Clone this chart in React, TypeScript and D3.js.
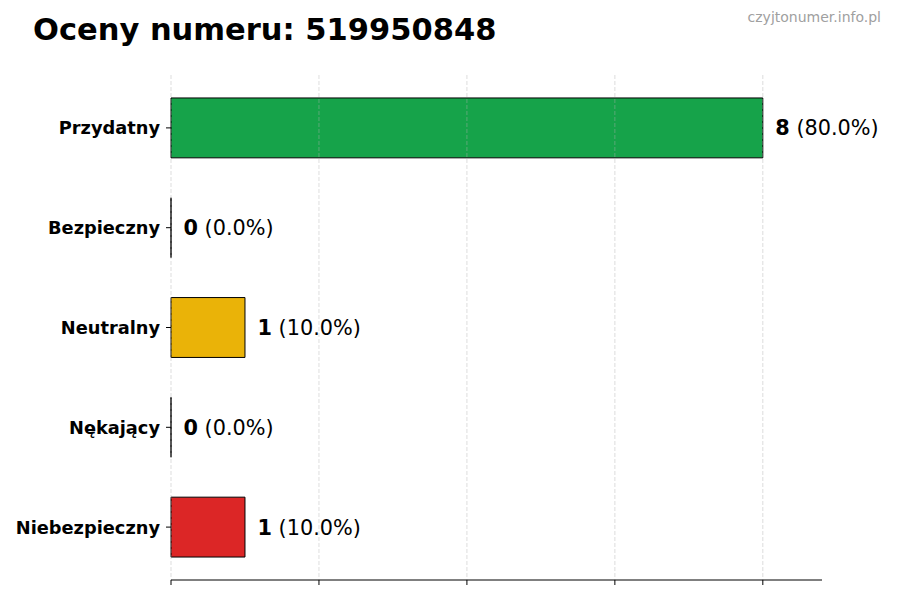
import React from 'react';
import * as d3 from 'd3';

const categories = ['Przydatny', 'Bezpieczny', 'Neutralny', 'Nękający', 'Niebezpieczny'];
const counts = [8, 0, 1, 0, 1];
const barColors = ['#16a34a', '#22c55e', '#eab308', '#f97316', '#dc2626'];
const xTicks = [0, 2, 4, 6, 8];

const title = 'Oceny numeru: 519950848';
const watermark = 'czyjtonumer.info.pl';

const W = 900;
const H = 600;
const margin = { top: 75, right: 78, bottom: 20, left: 171 };
const FONT = '"DejaVu Sans", Verdana, sans-serif';

const App: React.FC = () => {
    const total = d3.sum(counts);
    const plotBottom = H - margin.bottom;

    const x = d3.scaleLinear()
        .domain([0, 8.8])
        .range([margin.left, W - margin.right]);

    const y = d3.scaleBand<string>()
        .domain(categories)
        .range([margin.top, plotBottom])
        .paddingInner(0.4)
        .paddingOuter(0.23);

    // path instead of rect so zero-width bars still show their outline
    const barPath = (c: string, v: number) => {
        const p = d3.path();
        p.rect(x(0), y(c) ?? 0, x(v) - x(0), y.bandwidth());
        return p.toString();
    };

    return (
        <svg width={W} height={H} style={{ display: 'block', position: 'absolute', left: 0, top: 0, background: '#fff' }} fontFamily={FONT}>
            <rect x={0} y={0} width={W} height={H} fill="#fff" />

            {/* title + watermark */}
            <text x={33} y={40} fontSize={30.5} fontWeight="bold" fill="#000">{title}</text>
            <text x={881} y={22} fontSize={14} fill="#a0a0a0" textAnchor="end">{watermark}</text>

            {/* bars */}
            {categories.map((c, i) => (
                <path
                    key={c}
                    d={barPath(c, counts[i])}
                    fill={barColors[i]}
                    stroke="#000"
                    strokeWidth={1}
                />
            ))}

            {/* vertical dashed grid */}
            {xTicks.map(t => (
                <line
                    key={'g' + t}
                    x1={x(t)} x2={x(t)}
                    y1={margin.top} y2={plotBottom}
                    stroke="#b0b0b0"
                    strokeOpacity={0.55}
                    strokeWidth={0.8}
                    strokeDasharray="4,2"
                />
            ))}

            {/* bottom axis, no labels */}
            <line x1={x.range()[0]} x2={x.range()[1]} y1={plotBottom} y2={plotBottom} stroke="#000" strokeWidth={1} />
            {xTicks.map(t => (
                <line key={'t' + t} x1={x(t)} x2={x(t)} y1={plotBottom} y2={plotBottom + 5} stroke="#000" strokeWidth={1} />
            ))}

            {/* y ticks and labels */}
            {categories.map(c => {
                const cy = (y(c) ?? 0) + y.bandwidth() / 2;
                return (
                    <g key={'y' + c}>
                        <line x1={x(0) - 5} x2={x(0)} y1={cy} y2={cy} stroke="#000" strokeWidth={1} />
                        <text x={x(0) - 11} y={cy} dy="0.37em" textAnchor="end" fontSize={17.8} fontWeight="bold" fill="#000">{c}</text>
                    </g>
                );
            })}

            {/* value labels */}
            {categories.map((c, i) => {
                const cy = (y(c) ?? 0) + y.bandwidth() / 2;
                const pct = total ? (counts[i] / total) * 100 : 0;
                return (
                    <text key={'v' + c} x={x(counts[i]) + 12.5} y={cy} dy="0.36em" fontSize={20.8} fill="#000">
                        <tspan fontWeight="bold">{counts[i]}</tspan>
                        <tspan>{` (${pct.toFixed(1)}%)`}</tspan>
                    </text>
                );
            })}
        </svg>
    );
};

export default App;
